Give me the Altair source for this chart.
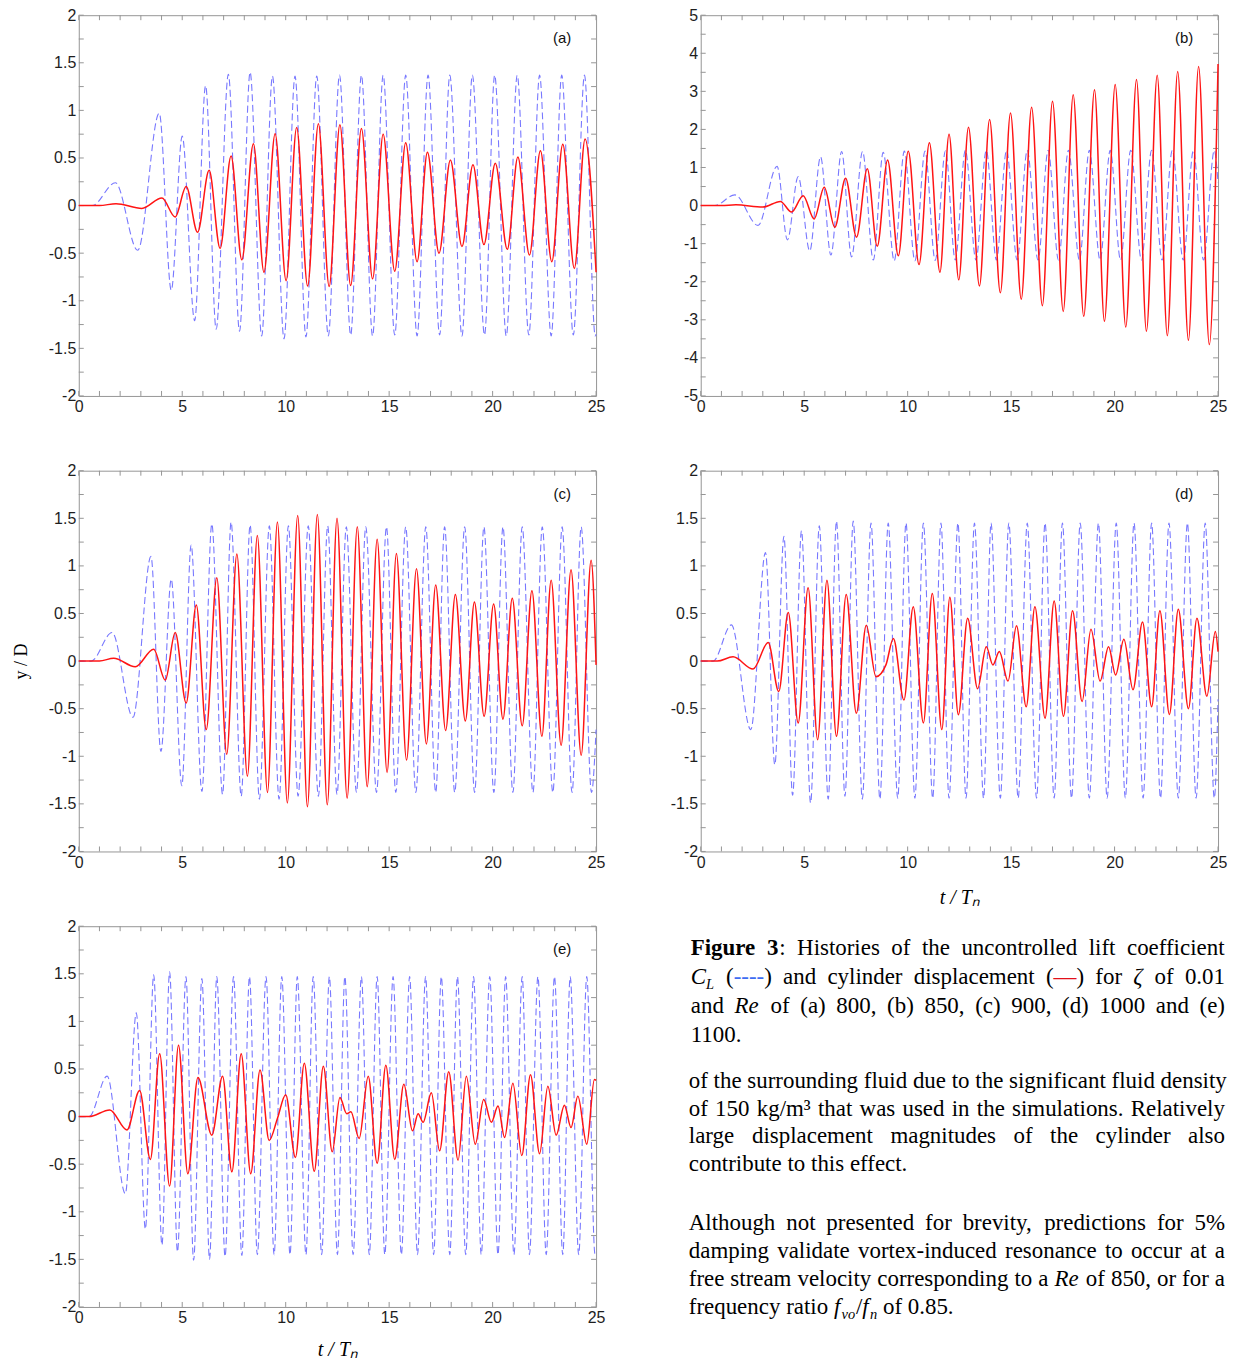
import re
import altair as alt
import pandas as pd

# ---------------- data: extrema of each time history ----------------
# (a) Re = 800
A_CL_T = [0, 0.65, 1.77, 2.85, 3.89, 4.47, 5.0, 5.6, 6.13, 6.64, 7.23, 7.77, 8.28, 8.84, 9.36, 9.92,
          10.45, 10.98, 11.5, 12.06, 12.6, 13.14, 13.66, 14.2, 14.71, 15.27, 15.8, 16.35, 16.88, 17.44,
          17.93, 18.52, 19.02, 19.61, 20.1, 20.66, 21.19, 21.75, 22.27, 22.83, 23.34, 23.9, 24.44, 24.96, 25.0]
A_CL_V = [0, 0, 0.24, -0.47, 0.97, -0.89, 0.73, -1.21, 1.26, -1.30, 1.38, -1.32, 1.40, -1.37, 1.36, -1.40,
          1.36, -1.38, 1.36, -1.37, 1.37, -1.36, 1.37, -1.37, 1.37, -1.36, 1.37, -1.37, 1.37, -1.36,
          1.37, -1.37, 1.37, -1.36, 1.37, -1.37, 1.37, -1.36, 1.37, -1.37, 1.37, -1.36, 1.37, -1.37, -1.35]
A_Y_T = [0, 1.0, 1.8, 3.05, 4.02, 4.66, 5.19, 5.74, 6.3, 6.83, 7.36, 7.88, 8.44, 8.95, 9.49, 10.02, 10.53,
         11.06, 11.58, 12.1, 12.62, 13.14, 13.66, 14.2, 14.71, 15.27, 15.8, 16.35, 16.85, 17.41, 17.96, 18.52,
         19.05, 19.58, 20.13, 20.71, 21.22, 21.78, 22.31, 22.86, 23.39, 23.95, 24.47, 25.0]
A_Y_V = [0, 0, 0.02, -0.03, 0.08, -0.12, 0.20, -0.28, 0.37, -0.45, 0.52, -0.57, 0.65, -0.70, 0.755, -0.79,
         0.82, -0.845, 0.86, -0.85, 0.85, -0.84, 0.81, -0.77, 0.75, -0.69, 0.66, -0.59, 0.56, -0.50, 0.48,
         -0.43, 0.43, -0.41, 0.445, -0.46, 0.51, -0.52, 0.575, -0.59, 0.645, -0.66, 0.70, -0.70]

# (b) Re = 850
B_CL_T = [0, 0.68, 1.65, 2.77, 3.69, 4.19, 4.71, 5.27, 5.79, 6.29, 6.81, 7.29, 7.82, 8.34, 8.82, 9.35, 9.84,
          10.35, 10.84, 11.33, 11.83, 12.3, 12.79, 13.3, 13.8, 14.29, 14.78, 15.29, 15.78, 16.3, 16.79, 17.29,
          17.77, 18.3, 18.78, 19.3, 19.79, 20.29, 20.78, 21.3, 21.79, 22.3, 22.79, 23.32, 23.81, 24.3, 24.82, 25.0]
B_CL_V = [0, 0, 0.28, -0.52, 1.03, -0.90, 0.76, -1.19, 1.28, -1.30, 1.42, -1.35, 1.42, -1.43, 1.40, -1.45,
          1.43, -1.45, 1.43, -1.44, 1.44, -1.43, 1.45, -1.43, 1.45, -1.43, 1.45, -1.43, 1.45, -1.43, 1.45,
          -1.43, 1.45, -1.43, 1.45, -1.43, 1.45, -1.43, 1.45, -1.43, 1.45, -1.43, 1.45, -1.43, 1.45, -1.43,
          1.45, 0.6]
B_Y_T = [0, 1.0, 1.7, 3.0, 3.85, 4.39, 4.95, 5.48, 5.97, 6.48, 7.0, 7.53, 8.05, 8.53, 9.03, 9.55, 10.03,
         10.55, 11.05, 11.56, 12.0, 12.47, 12.94, 13.47, 13.96, 14.48, 14.97, 15.49, 15.99, 16.51, 17.0, 17.52,
         18.0, 18.51, 19.03, 19.51, 20.03, 20.54, 21.06, 21.54, 22.06, 22.55, 23.05, 23.57, 24.06, 24.58, 25.0]
B_Y_V = [0, 0, 0.02, -0.04, 0.11, -0.17, 0.26, -0.35, 0.48, -0.57, 0.72, -0.83, 0.97, -1.07, 1.20, -1.32,
         1.43, -1.55, 1.65, -1.75, 1.87, -1.95, 2.06, -2.11, 2.26, -2.29, 2.43, -2.46, 2.58, -2.63, 2.74,
         -2.78, 2.91, -2.91, 3.04, -3.04, 3.18, -3.19, 3.31, -3.30, 3.42, -3.42, 3.52, -3.54, 3.65, -3.65, 3.72]

# (c) Re = 900
C_CL_T = [0, 0.6, 1.61, 2.62, 3.49, 3.97, 4.47, 4.98, 5.43, 5.95, 6.43, 6.95, 7.36, 7.85, 8.28, 8.73, 9.21,
          9.68, 10.13, 10.6, 11.09, 11.58, 12.03, 12.48, 12.93, 13.42, 13.87, 14.39, 14.87, 15.32, 15.8, 16.29,
          16.77, 17.25, 17.68, 18.17, 18.65, 19.13, 19.58, 20.06, 20.5, 20.98, 21.43, 21.95, 22.4, 22.91,
          23.36, 23.84, 24.28, 24.78, 25.0]
C_CL_V = [0, 0, 0.30, -0.59, 1.10, -0.95, 0.86, -1.31, 1.22, -1.37, 1.44, -1.40, 1.46, -1.42, 1.43, -1.45,
          1.42, -1.45, 1.42, -1.42, 1.42, -1.42, 1.42, -1.40, 1.41, -1.38, 1.41, -1.38, 1.41, -1.38, 1.41,
          -1.38, 1.41, -1.38, 1.41, -1.38, 1.41, -1.38, 1.41, -1.38, 1.41, -1.38, 1.41, -1.38, 1.41, -1.38,
          1.41, -1.38, 1.41, -1.38, -0.72]
C_Y_T = [0, 1.0, 1.69, 2.73, 3.62, 4.18, 4.66, 5.19, 5.68, 6.16, 6.67, 7.15, 7.64, 8.15, 8.63, 9.12, 9.6,
         10.08, 10.58, 11.05, 11.53, 12.01, 12.48, 12.97, 13.46, 13.94, 14.42, 14.9, 15.35, 15.84, 16.32, 16.8,
         17.25, 17.73, 18.2, 18.68, 19.12, 19.59, 20.05, 20.5, 20.95, 21.43, 21.9, 22.38, 22.83, 23.31, 23.79,
         24.28, 24.76, 25.0]
C_Y_V = [0, 0, 0.03, -0.06, 0.125, -0.20, 0.30, -0.44, 0.59, -0.72, 0.875, -0.98, 1.125, -1.21, 1.32, -1.38,
         1.46, -1.49, 1.53, -1.53, 1.54, -1.51, 1.50, -1.44, 1.41, -1.32, 1.28, -1.17, 1.13, -1.04, 0.97,
         -0.87, 0.80, -0.73, 0.70, -0.63, 0.62, -0.58, 0.60, -0.61, 0.66, -0.68, 0.74, -0.79, 0.85, -0.885,
         0.96, -0.99, 1.06, -0.04]

# (d) Re = 1000
D_CL_T = [0, 0.6, 1.48, 2.42, 3.13, 3.58, 4.02, 4.44, 4.87, 5.31, 5.73, 6.16, 6.56, 6.97, 7.37, 7.81, 8.23,
          8.66, 9.06, 9.52, 9.92, 10.35, 10.76, 11.21, 11.61, 12.0, 12.43, 12.82, 13.23, 13.67, 14.03, 14.48,
          14.89, 15.34, 15.78, 16.23, 16.64, 17.08, 17.48, 17.92, 18.34, 18.78, 19.22, 19.64, 20.08, 20.52,
          20.94, 21.38, 21.79, 22.22, 22.63, 23.08, 23.52, 23.94, 24.38, 24.82, 25.0]
D_CL_V = [0, 0, 0.38, -0.72, 1.14, -1.09, 1.31, -1.41, 1.37, -1.49, 1.42, -1.45, 1.47, -1.42, 1.47, -1.45,
          1.45, -1.45, 1.45, -1.44, 1.45, -1.44, 1.45, -1.44, 1.45, -1.44, 1.45, -1.44, 1.45, -1.44, 1.45,
          -1.44, 1.45, -1.44, 1.45, -1.44, 1.45, -1.44, 1.45, -1.44, 1.45, -1.44, 1.45, -1.44, 1.45, -1.44,
          1.45, -1.44, 1.45, -1.44, 1.45, -1.44, 1.45, -1.44, 1.45, -1.44, -0.40]
D_Y_T = [0, 0.8, 1.56, 2.53, 3.26, 3.77, 4.23, 4.71, 5.19, 5.65, 6.1, 6.56, 7.03, 7.52, 8.0, 8.47, 8.95,
         9.31, 9.82, 10.27, 10.76, 11.19, 11.65, 12.04, 12.45, 12.9, 13.38, 13.8, 14.12, 14.43, 14.85, 15.26,
         15.73, 16.15, 16.64, 17.08, 17.53, 17.97, 18.43, 18.86, 19.3, 19.71, 20.05, 20.45, 20.89, 21.35,
         21.79, 22.19, 22.65, 23.08, 23.57, 23.98, 24.46, 24.87, 25.0]
D_Y_V = [0, 0, 0.045, -0.084, 0.195, -0.32, 0.51, -0.65, 0.77, -0.826, 0.85, -0.79, 0.70, -0.547, 0.376,
         -0.164, -0.04, 0.237, -0.41, 0.57, -0.65, 0.71, -0.72, 0.67, -0.565, 0.45, -0.29, 0.15, -0.04, 0.10,
         -0.21, 0.37, -0.48, 0.57, -0.60, 0.63, -0.58, 0.53, -0.425, 0.335, -0.21, 0.15, -0.146, 0.23, -0.30,
         0.41, -0.48, 0.53, -0.56, 0.545, -0.50, 0.45, -0.37, 0.31, 0.10]

# (e) Re = 1100
E_CL_T = [0, 0.5, 1.37, 2.25, 2.78, 3.22, 3.62, 4.02, 4.39, 4.77, 5.18, 5.55, 5.95, 6.32, 6.67, 7.07, 7.48,
          7.88, 8.25, 8.63, 9.05, 9.44, 9.81, 10.21, 10.56, 10.98, 11.33, 11.74, 12.11, 12.5, 12.86, 13.26,
          13.66, 14.04, 14.42, 14.79, 15.19, 15.59, 15.99, 16.37, 16.76, 17.15, 17.52, 17.93, 18.3, 18.7,
          19.08, 19.45, 19.86, 20.26, 20.63, 21.03, 21.43, 21.78, 22.19, 22.59, 22.99, 23.39, 23.75, 24.16,
          24.55, 24.95, 25.0]
E_CL_V = [0, 0, 0.425, -0.81, 1.09, -1.18, 1.49, -1.35, 1.52, -1.42, 1.47, -1.51, 1.45, -1.50, 1.47, -1.47,
          1.47, -1.46, 1.47, -1.45, 1.47, -1.45, 1.47, -1.45, 1.47, -1.45, 1.47, -1.45, 1.47, -1.45, 1.47,
          -1.45, 1.47, -1.45, 1.47, -1.45, 1.47, -1.45, 1.47, -1.45, 1.47, -1.45, 1.47, -1.45, 1.47, -1.45,
          1.47, -1.45, 1.47, -1.45, 1.47, -1.45, 1.47, -1.45, 1.47, -1.45, 1.47, -1.45, 1.47, -1.45, 1.47,
          -1.45, -1.43]
E_Y_T = [0, 0.5, 1.5, 2.33, 2.94, 3.46, 3.91, 4.39, 4.82, 5.27, 5.76, 6.43, 6.95, 7.4, 7.85, 8.31, 8.76,
         9.2, 9.6, 10.0, 10.47, 10.9, 11.38, 11.82, 12.25, 12.62, 12.95, 13.15, 13.55, 13.99, 14.42, 14.84,
         15.27, 15.71, 16.13, 16.4, 16.64, 17.04, 17.44, 17.88, 18.33, 18.73, 19.16, 19.57, 19.94, 20.26,
         20.58, 20.98, 21.41, 21.83, 22.27, 22.67, 23.07, 23.47, 23.79, 24.12, 24.55, 24.92, 25.0]
E_Y_V = [0, 0, 0.07, -0.14, 0.275, -0.45, 0.66, -0.73, 0.75, -0.60, 0.41, -0.195, 0.425, -0.58, 0.66, -0.60,
         0.49, -0.25, -0.02, 0.23, -0.43, 0.56, -0.575, 0.53, -0.37, 0.20, 0.03, 0.05, -0.23, 0.425, -0.49,
         0.54, -0.45, 0.34, -0.15, 0.03, -0.06, 0.25, -0.36, 0.47, -0.46, 0.425, -0.29, 0.18, -0.06, 0.11,
         -0.22, 0.35, -0.41, 0.44, -0.39, 0.32, -0.195, 0.12, -0.115, 0.215, -0.29, 0.39, 0.38]

# axis ticks and labels
X_LABELS = [0, 5, 10, 15, 20, 25]
X_MINOR = [0, 1, 2, 3, 4, 5, 6, 7, 8, 9, 10, 11, 12, 13, 14, 15, 16, 17, 18, 19, 20, 21, 22, 23, 24, 25]
Y2_LABELS = [-2, -1.5, -1, -0.5, 0, 0.5, 1, 1.5, 2]
Y2_MINOR = [-2, -1.75, -1.5, -1.25, -1, -0.75, -0.5, -0.25, 0, 0.25, 0.5, 0.75, 1, 1.25, 1.5, 1.75, 2]
Y5_LABELS = [-5, -4, -3, -2, -1, 0, 1, 2, 3, 4, 5]
Y5_MINOR = [-5, -4.5, -4, -3.5, -3, -2.5, -2, -1.5, -1, -0.5, 0, 0.5, 1, 1.5, 2, 2.5, 3, 3.5, 4, 4.5, 5]

# text beside panel (e)
CAPTION_LINES = [
    "{b:Figure} {b:3}: Histories of the uncontrolled lift coefficient",
    "{i:C}{sub:L} ({blue:----}) and cylinder displacement ({red:\u2014}) for {i:\u03b6} of 0.01",
    "and {i:Re} of (a) 800, (b) 850, (c) 900, (d) 1000 and (e)",
    "1100.",
]
PARA1_LINES = [
    "of the surrounding fluid due to the significant fluid density",
    "of 150 kg/m\u00b3 that was used in the simulations. Relatively",
    "large displacement magnitudes of the cylinder also",
    "contribute to this effect.",
]
PARA2_LINES = [
    "Although not presented for brevity, predictions for 5%",
    "damping validate vortex-induced resonance to occur at a",
    "free stream velocity corresponding to a {i:Re} of 850, or for a",
    "frequency ratio {i:f}{sub:vo}/{i:f}{sub:n} of 0.85.",
]

for a, b in [(A_CL_T, A_CL_V), (A_Y_T, A_Y_V), (B_CL_T, B_CL_V), (B_Y_T, B_Y_V), (C_CL_T, C_CL_V),
             (C_Y_T, C_Y_V), (D_CL_T, D_CL_V), (D_Y_T, D_Y_V), (E_CL_T, E_CL_V), (E_Y_T, E_Y_V)]:
    assert len(a) == len(b), (len(a), len(b))

# ---------------- style ----------------
SERIF = "Liberation Serif"
SANS = "Liberation Sans"
FRAME = "#969696"
LABEL_COLOR = "#1e1e1e"
BLUE = "#7878ff"
RED = "#ff1414"
PW, PH = 519, 382
LABEL_EXPR = "'' + datum.value"


def panel(ct, cv, yt, yv, ydom, ylabels, yminor, tag, ytitle, yvisible, xvisible, xpad=16):
    xs = alt.Scale(domain=[0, 25], nice=False, zero=False)
    ys = alt.Scale(domain=ydom, nice=False, zero=False)
    xaxis = alt.Axis(values=X_LABELS, labelExpr=LABEL_EXPR, ticks=False, tickSize=0, domain=False,
                     grid=False, labelFont=SANS, labelFontSize=16, labelColor=LABEL_COLOR, labelPadding=3,
                     labelFlush=False, labelOverlap=False, minExtent=20, maxExtent=20,
                     title="t / T\u2099", titleFont=SERIF, titleFontSize=20, titleFontStyle="italic",
                     titleFontWeight="normal", titleColor="#000000",
                     titleOpacity=1 if xvisible else 0, titlePadding=xpad)
    ykw = dict(values=ylabels, labelExpr=LABEL_EXPR, ticks=False, tickSize=0, domain=False, grid=False,
               labelFont=SANS, labelFontSize=16, labelColor=LABEL_COLOR, labelPadding=3,
               labelFlush=False, labelOverlap=False, minExtent=31, maxExtent=31)
    if ytitle:
        yaxis = alt.Axis(title="y / D", titleFont=SERIF, titleFontSize=18, titleFontWeight="normal",
                         titleColor="#000000", titleOpacity=1 if yvisible else 0, titlePadding=17, **ykw)
    else:
        yaxis = alt.Axis(title=None, **ykw)

    def X():
        return alt.X("t:Q", scale=xs, axis=xaxis)

    def Y():
        return alt.Y("v:Q", scale=ys, axis=yaxis)

    cl = alt.Chart(pd.DataFrame({"t": ct, "v": cv})).mark_line(
        color=BLUE, strokeWidth=1.1, strokeDash=[7, 3.5], interpolate="monotone").encode(x=X(), y=Y())
    dy = alt.Chart(pd.DataFrame({"t": yt, "v": yv})).mark_line(
        color=RED, strokeWidth=1.5, interpolate="monotone").encode(x=X(), y=Y())
    xt = pd.DataFrame({"t": X_MINOR})
    ytk = pd.DataFrame({"v": yminor})
    tb = alt.Chart(xt).mark_rule(color=FRAME, strokeWidth=1).encode(
        x=X(), y=alt.value(PH), y2=alt.value(PH - 5))
    tt = alt.Chart(xt).mark_rule(color=FRAME, strokeWidth=1).encode(
        x=X(), y=alt.value(0), y2=alt.value(5))
    tl = alt.Chart(ytk).mark_rule(color=FRAME, strokeWidth=1).encode(
        y=Y(), x=alt.value(0), x2=alt.value(5))
    tr = alt.Chart(ytk).mark_rule(color=FRAME, strokeWidth=1).encode(
        y=Y(), x=alt.value(PW), x2=alt.value(PW - 5))
    lab = alt.Chart(pd.DataFrame({"s": [tag]})).mark_text(
        font=SANS, fontSize=15, color="#111111", align="center", baseline="middle").encode(
        text="s:N", x=alt.value(PW - 34), y=alt.value(23))
    return alt.layer(tt, tb, tl, tr, cl, dy, lab).properties(
        width=PW, height=PH, view=alt.ViewBackground(stroke=FRAME, strokeWidth=1))


# ---- text block (Times metrics for word placement / justification) ----
TW = {}
for chars, w in [(" ", 250), ("!", 333), ("%", 833), ("()", 333), (",.", 250), ("-", 333), ("/:;", 278),
                 ("0123456789", 500), ("ADGHKNOQUVXY", 722), ("BCR", 667), ("ELTZ", 611), ("FPS", 556),
                 ("I", 333), ("J", 389), ("M", 889), ("W", 944), ("acez", 444), ("bdghknopquvxy", 500),
                 ("fr", 333), ("ijlt", 278), ("m", 778), ("s", 389), ("w", 722), ("\u2014", 1000),
                 ("\u03b6", 440), ("\u00b3", 300)]:
    for ch in chars:
        TW[ch] = w

FS = 23
TEXT_STYLES = {
    "n": dict(fontSize=FS, color="#000000"),
    "b": dict(fontSize=FS, fontWeight="bold", color="#000000"),
    "i": dict(fontSize=FS, fontStyle="italic", color="#000000"),
    "sub": dict(fontSize=14.5, fontStyle="italic", color="#000000", dy=5),
    "blue": dict(fontSize=FS, color="#3d6cf2"),
    "red": dict(fontSize=FS, color="#e3101a"),
}


def run_width(text, style):
    size = TEXT_STYLES[style]["fontSize"]
    f = 1.08 if style == "b" else 1.0
    return sum(TW.get(ch, 500) for ch in text) / 1000.0 * size * f


def parse_line(line):
    runs = []
    for part in re.split(r"(\{\w+:[^}]*\})", line):
        if not part:
            continue
        m = re.fullmatch(r"\{(\w+):([^}]*)\}", part)
        if m:
            runs.append((m.group(2), m.group(1)))
        else:
            runs.append((part, "n"))
    words = [[]]
    for text, st in runs:
        pieces = text.split(" ")
        for k, p in enumerate(pieces):
            if k > 0:
                words.append([])
            if p:
                words[-1].append((p, st))
    return [w for w in words if w]


def text_panel():
    space = 0.25 * FS
    rows = []
    blocks = [(CAPTION_LINES, 2, 29, 29, 536), (PARA1_LINES, 0, 162, 28, 538), (PARA2_LINES, 0, 305, 28, 538)]
    for lines, x0, top, lh, width in blocks:
        for li, line in enumerate(lines):
            words = parse_line(line)
            ws = [sum(run_width(t, s) for t, s in w) for w in words]
            gap = space
            if li < len(lines) - 1 and len(words) > 1:
                gap = max(space, (width - sum(ws)) / (len(words) - 1))
            x = x0
            for w, wsum in zip(words, ws):
                xx = x
                for t, s in w:
                    rows.append({"s": t, "style": s, "x": round(xx, 2), "y": top + li * lh})
                    xx += run_width(t, s)
                x += wsum + gap
    df = pd.DataFrame(rows)
    layers = []
    for st, props in TEXT_STYLES.items():
        sub = df[df["style"] == st][["s", "x", "y"]].reset_index(drop=True)
        if sub.empty:
            continue
        layers.append(alt.Chart(sub).mark_text(align="left", baseline="alphabetic", font=SERIF,
                                               **props).encode(
            x=alt.X("x:Q", scale=None, axis=None), y=alt.Y("y:Q", scale=None, axis=None), text="s:N"))
    return alt.layer(*layers).properties(width=541, height=420,
                                         view=alt.ViewBackground(stroke="transparent"))


pa = panel(A_CL_T, A_CL_V, A_Y_T, A_Y_V, [-2, 2], Y2_LABELS, Y2_MINOR, "(a)", True, False, False)
pb = panel(B_CL_T, B_CL_V, B_Y_T, B_Y_V, [-5, 5], Y5_LABELS, Y5_MINOR, "(b)", False, False, False)
pc = panel(C_CL_T, C_CL_V, C_Y_T, C_Y_V, [-2, 2], Y2_LABELS, Y2_MINOR, "(c)", True, True, False)
pd_ = panel(D_CL_T, D_CL_V, D_Y_T, D_Y_V, [-2, 2], Y2_LABELS, Y2_MINOR, "(d)", False, False, True)
pe = panel(E_CL_T, E_CL_V, E_Y_T, E_Y_V, [-2, 2], Y2_LABELS, Y2_MINOR, "(e)", True, False, True, xpad=13)

row1 = alt.hconcat(pa, pb, spacing=63)
row2 = alt.hconcat(pc, pd_, spacing=63)
row3 = alt.hconcat(pe, text_panel(), spacing=82)

chart = alt.vconcat(row1, row2, row3, spacing=9).properties(
    padding={"left": 4, "top": -4, "right": 0, "bottom": 0}, background="white")

chart.save("out.html", embed_options={"renderer": "svg", "actions": False})
